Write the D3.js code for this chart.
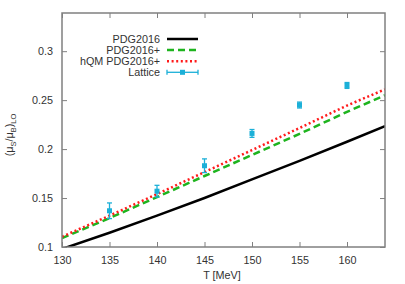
<!DOCTYPE html>
<html><head><meta charset="utf-8">
<script src="https://cdn.jsdelivr.net/npm/d3@7"></script>
<style>body{margin:0;background:#fff}svg{display:block}text{font-family:"Liberation Sans",Arial,sans-serif}</style>
</head><body><svg id="c" width="405" height="284"></svg>
<script>
const T = [130,135,140,145,150,155,160,164];
const pdg2016 = [0.098,0.1145,0.132,0.150,0.169,0.188,0.2075,0.2235];
const pdg2016plus = [0.109,0.1295,0.151,0.1725,0.194,0.2155,0.238,0.255];
const hqm = [0.1105,0.132,0.154,0.1765,0.199,0.2215,0.2445,0.261];
const latT = [135,140,145,150,155,160];
const latV = [0.137,0.157,0.183,0.216,0.245,0.265];
const latE = [0.008,0.006,0.007,0.004,0.003,0.003];
const xTicks = [130,135,140,145,150,155,160];
const yTicks = [0.1,0.15,0.2,0.25,0.3];

const svg = d3.select("#c");
const L=62,R=385,Tp=13,B=247;
const txt = "#333";
const x = d3.scaleLinear().domain([130,164]).range([L,R]);
const y = d3.scaleLinear().domain([0.1,0.339]).range([B,Tp]);
const defs = svg.append("defs");
defs.append("clipPath").attr("id","clip").append("rect").attr("x",L).attr("y",Tp).attr("width",R-L).attr("height",B-Tp);

const g = svg.append("g");
const fmt = d => String(d);
g.append("g").attr("transform",`translate(0,${B})`).call(d3.axisBottom(x).tickValues(xTicks).tickSize(-5).tickPadding(9).tickFormat(fmt));
g.append("g").attr("transform",`translate(0,${Tp})`).call(d3.axisTop(x).tickValues(xTicks).tickSize(-5).tickFormat(""));
g.append("g").attr("transform",`translate(${L},0)`).call(d3.axisLeft(y).tickValues(yTicks).tickSize(-5).tickPadding(9).tickFormat(fmt));
g.append("g").attr("transform",`translate(${R},0)`).call(d3.axisRight(y).tickValues(yTicks).tickSize(-5).tickFormat(""));
g.selectAll(".domain").remove();
g.selectAll(".tick line").attr("stroke","#808080").attr("stroke-width",1);
g.selectAll(".tick text").attr("font-size",10.8).attr("fill",txt).attr("font-family","Liberation Sans, Arial, sans-serif");

const line = d3.line().x((d,i)=>x(T[i])).y(d=>y(d));
const plot = svg.append("g").attr("clip-path","url(#clip)");
plot.append("path").datum(pdg2016).attr("d",line).attr("fill","none").attr("stroke","#000").attr("stroke-width",2.5);
plot.append("path").datum(pdg2016plus).attr("d",line).attr("fill","none").attr("stroke","#1eb41e").attr("stroke-width",2.5).attr("stroke-dasharray","7,4");
plot.append("path").datum(hqm).attr("d",line).attr("fill","none").attr("stroke","#ff1a1a").attr("stroke-width",2.5).attr("stroke-dasharray","2,2.6");

const lat = svg.append("g");
const col = "#1cb0d8";
latT.forEach((t,i)=>{
  const cx=x(t), y1=y(latV[i]+latE[i]), y2=y(latV[i]-latE[i]);
  lat.append("line").attr("x1",cx).attr("x2",cx).attr("y1",y1).attr("y2",y2).attr("stroke",col).attr("stroke-width",1.3);
  lat.append("line").attr("x1",cx-2.5).attr("x2",cx+2.5).attr("y1",y1).attr("y2",y1).attr("stroke",col).attr("stroke-width",1.3);
  lat.append("line").attr("x1",cx-2.5).attr("x2",cx+2.5).attr("y1",y2).attr("y2",y2).attr("stroke",col).attr("stroke-width",1.3);
  lat.append("rect").attr("x",cx-2.5).attr("y",y(latV[i])-2.5).attr("width",5).attr("height",5).attr("fill",col);
});

svg.append("rect").attr("x",L).attr("y",Tp).attr("width",R-L).attr("height",B-Tp).attr("fill","none").attr("stroke","#808080").attr("stroke-width",1.5);

// legend
const leg = svg.append("g");
const items = [
  {t:"PDG2016",c:"#000",da:null},
  {t:"PDG2016+",c:"#1eb41e",da:"7,4"},
  {t:"hQM PDG2016+",c:"#ff1a1a",da:"2,2.6"},
  {t:"Lattice",c:col,da:null,pt:true}
];
items.forEach((it,i)=>{
  const yy = 39 + i*11.1;
  leg.append("text").attr("x",160).attr("y",yy+3.7).attr("text-anchor","end").attr("font-size",10.8).attr("fill",txt).text(it.t);
  const ln = leg.append("line").attr("x1",167).attr("x2",198).attr("y1",yy).attr("y2",yy).attr("stroke",it.c).attr("stroke-width",it.pt?1.3:2.5);
  if(it.da) ln.attr("stroke-dasharray",it.da);
  if(it.pt){
    leg.append("line").attr("x1",167).attr("x2",167).attr("y1",yy-2.5).attr("y2",yy+2.5).attr("stroke",col).attr("stroke-width",1.3);
    leg.append("line").attr("x1",198).attr("x2",198).attr("y1",yy-2.5).attr("y2",yy+2.5).attr("stroke",col).attr("stroke-width",1.3);
    leg.append("rect").attr("x",182.5-2.5).attr("y",yy-2.5).attr("width",5).attr("height",5).attr("fill",col);
  }
});

// axis labels
svg.append("text").attr("x",222).attr("y",279).attr("text-anchor","middle").attr("font-size",10.8).attr("fill",txt).text("T [MeV]");
const yl = svg.append("text").attr("transform","translate(13,135) rotate(-90)").attr("text-anchor","middle").attr("font-size",10.8).attr("fill",txt);
yl.append("tspan").text("(μ");
yl.append("tspan").attr("font-size",7.5).attr("dy",2.5).text("S");
yl.append("tspan").attr("dy",-2.5).text("/μ");
yl.append("tspan").attr("font-size",7.5).attr("dy",2.5).text("B");
yl.append("tspan").attr("dy",-2.5).text(")");
yl.append("tspan").attr("font-size",7.5).attr("dy",2.5).text("LO");
</script></body></html>
